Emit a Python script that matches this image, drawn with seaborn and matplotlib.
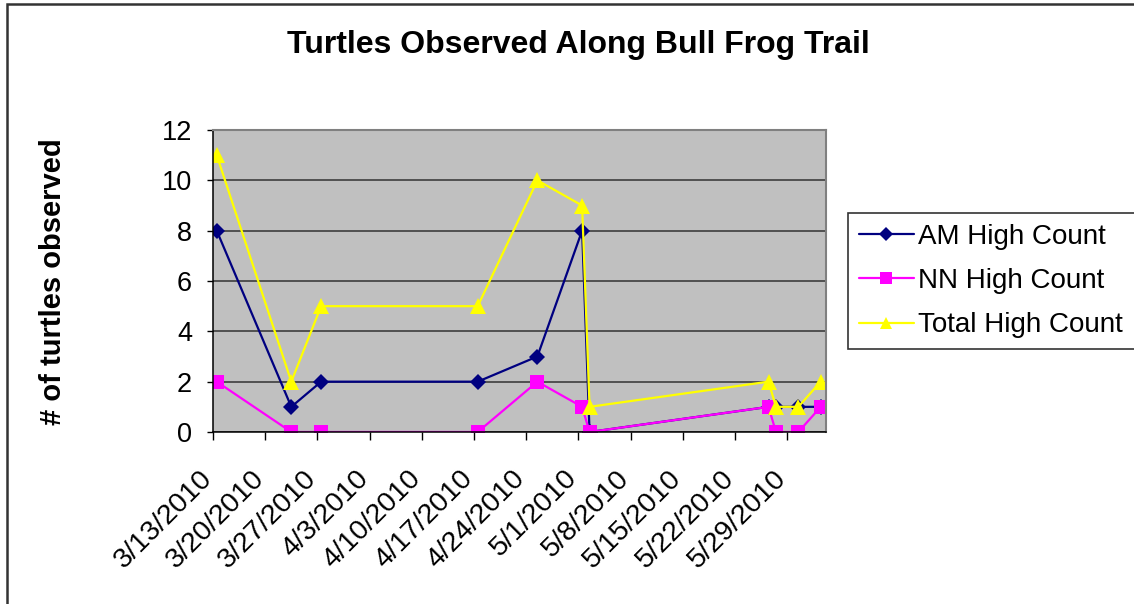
import matplotlib
matplotlib.use("Agg")
import matplotlib.pyplot as plt
from matplotlib.patches import Rectangle
import numpy as np
import pandas as pd
import seaborn as sns

# ---- data ----
dates = ["2010-03-13", "2010-03-23", "2010-03-27", "2010-04-17", "2010-04-25",
         "2010-05-01", "2010-05-02", "2010-05-26", "2010-05-27", "2010-05-30",
         "2010-06-02"]
am_high = [8, 1, 2, 2, 3, 8, 0, 1, 1, 1, 1]
nn_high = [2, 0, 0, 0, 2, 1, 0, 1, 0, 0, 1]
total_high = [11, 2, 5, 5, 10, 9, 1, 2, 1, 1, 2]
series_names = ["AM High Count", "NN High Count", "Total High Count"]
tick_dates = pd.date_range("2010-03-13", "2010-05-29", freq="7D")
tick_labels = [f"{d.month}/{d.day}/{d.year}" for d in tick_dates]
y_ticks = [0, 2, 4, 6, 8, 10, 12]

# ---- build long-form table ----
dt = pd.to_datetime(dates) + pd.Timedelta(hours=12)  # Excel centres points in the day
df = pd.DataFrame({
    "date": np.concatenate([dt, dt, dt]),
    "count": am_high + nn_high + total_high,
    "series": np.repeat(series_names, len(dates)),
})

sns.set_theme(style="white")
plt.rcParams["font.family"] = ["Liberation Sans", "DejaVu Sans"]
for k in ["text.color", "axes.labelcolor", "xtick.color", "ytick.color"]:
    plt.rcParams[k] = "black"

fig = plt.figure(figsize=(11.34, 6.04), dpi=100)
ax = fig.add_axes([213 / 1134, 1 - 432 / 604, (826 - 213) / 1134, (432 - 130) / 604])
ax.set_facecolor("#C0C0C0")

palette = {"AM High Count": "#000080", "NN High Count": "#FF00FF", "Total High Count": "#FFFF00"}
markers = {"AM High Count": "D", "NN High Count": "s", "Total High Count": "^"}

sns.lineplot(data=df, x="date", y="count", hue="series", style="series",
             hue_order=series_names, style_order=series_names,
             palette=palette, markers=markers, dashes=False,
             linewidth=1.6, markersize=10, markeredgewidth=0, sort=False,
             estimator=None, ax=ax, legend=True)

for line in ax.get_lines():
    if line.get_marker() == "D":
        line.set_markersize(8.5)
    elif line.get_marker() == "s":
        line.set_markersize(9.5)
    elif line.get_marker() == "^":
        line.set_markersize(11)

ax.set_xlim(pd.Timestamp("2010-03-13"), pd.Timestamp("2010-06-03 05:00"))
ax.set_ylim(0, 12)
ax.set_yticks(y_ticks)
ax.set_yticklabels([str(v) for v in y_ticks], fontsize=19.5)
ax.set_xticks(tick_dates)
ax.set_xticklabels(tick_labels, fontsize=20.5, rotation=45, ha="right", va="baseline",
                   rotation_mode="anchor")
ax.tick_params(axis="x", which="major", direction="out", length=6, width=1,
               color="black", pad=28, bottom=True)
ax.tick_params(axis="y", which="major", direction="out", length=4.5, width=1,
               color="black", pad=10.5, left=True)
ax.yaxis.grid(True, color="#333333", linewidth=1.1)
ax.xaxis.grid(False)
ax.set_axisbelow(True)
for s in ["left", "bottom"]:
    ax.spines[s].set_color("black")
    ax.spines[s].set_linewidth(1.1)
for s in ["top", "right"]:
    ax.spines[s].set_color("#808080")
    ax.spines[s].set_linewidth(1.5)
    ax.spines[s].set_visible(True)

ax.set_xlabel("")
ax.set_ylabel("")
fig.text(53 / 1134, 1 - 281.5 / 604, "# of turtles observed", fontsize=21,
         fontweight="bold", rotation=90, ha="center", va="center")
fig.suptitle("Turtles Observed Along Bull Frog Trail", fontsize=23,
             fontweight="bold", x=578 / 1134, y=1 - 45 / 604, va="center")

handles, labels = ax.get_legend_handles_labels()
if ax.legend_:
    ax.legend_.remove()
leg = fig.legend(handles, labels, loc="upper left",
                 bbox_to_anchor=(848 / 1134, 1 - 345 / 604, (1150 - 848) / 1134, 132 / 604),
                 mode="expand", fontsize=20, markerscale=0.85,
                 frameon=True, fancybox=False, edgecolor="black",
                 handlelength=1.98, handletextpad=0.15, labelspacing=0.66,
                 borderpad=0.38, borderaxespad=0)
leg.get_frame().set_linewidth(1.2)
leg.get_frame().set_facecolor("white")

# figure border (chart area outline)
fig.patches.append(Rectangle((7 / 1134, -0.05), 1.1, 1 - 4 / 604 + 0.05,
                             transform=fig.transFigure, fill=False,
                             edgecolor="#333333", linewidth=1.8))

fig.savefig("out.png", dpi=100, facecolor="white")
